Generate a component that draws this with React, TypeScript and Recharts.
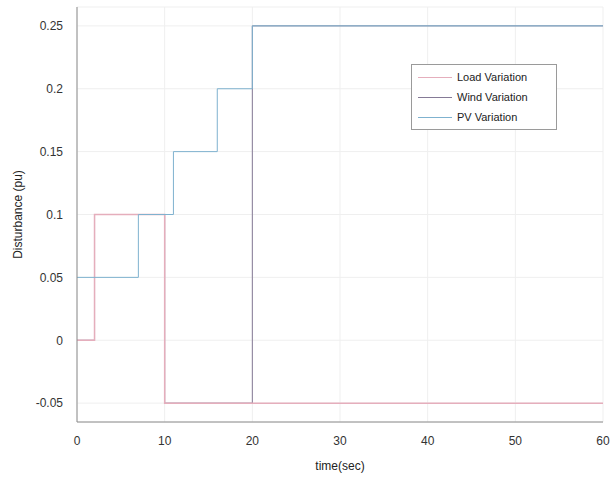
import React from 'react';
import { LineChart, Line, XAxis, YAxis, CartesianGrid } from 'recharts';

// step points (value holds until next time)
const loadVariation = [
  { t: 0, v: 0 },
  { t: 2, v: 0.1 },
  { t: 10, v: -0.05 },
  { t: 60, v: -0.05 },
];
const windVariation = [
  { t: 0, v: 0 },
  { t: 2, v: 0.1 },
  { t: 10, v: -0.05 },
  { t: 20, v: 0.25 },
  { t: 60, v: 0.25 },
];
const pvVariation = [
  { t: 0, v: 0.05 },
  { t: 7, v: 0.1 },
  { t: 11, v: 0.15 },
  { t: 16, v: 0.2 },
  { t: 20, v: 0.25 },
  { t: 60, v: 0.25 },
];
const xTicks = [0, 10, 20, 30, 40, 50, 60];
const yTicks = [-0.05, 0, 0.05, 0.1, 0.15, 0.2, 0.25];

const LOAD = '#e5aebc';
const WIND = '#857a96';
const PV = '#7fb2cf';
const FONT = '"Liberation Sans", Arial, sans-serif';

const legendItems = [
  { name: 'Load Variation', color: LOAD },
  { name: 'Wind Variation', color: WIND },
  { name: 'PV Variation', color: PV },
];

const LegendBox = () => (
  <div style={{ position: 'absolute', left: 411, top: 64, border: '1px solid #9a9a9a', background: '#fff', padding: '2px 10px 2px 6px', width: 128, fontFamily: FONT, fontSize: 11, color: '#222' }}>
    {legendItems.map(it => (
      <div key={it.name} style={{ display: 'flex', alignItems: 'center', height: 20 }}>
        <span style={{ display: 'inline-block', width: 34, borderTop: `1px solid ${it.color}`, marginRight: 5 }} />
        {it.name}
      </div>
    ))}
  </div>
);

export default function App() {
  return (
    <div style={{ position: 'absolute', left: 0, top: 0, width: 611, height: 480, background: '#fff' }}>
      <LineChart width={611} height={480} margin={{ top: 7, right: 8, bottom: 0, left: 0 }}>
        <CartesianGrid stroke="#efefef" />
        <XAxis
          type="number"
          dataKey="t"
          domain={[0, 60]}
          ticks={xTicks}
          tickLine={false}
          axisLine={{ stroke: '#8c8c8c' }}
          tick={{ fill: '#333', fontSize: 12, fontFamily: FONT }}
          tickMargin={8}
          height={58}
          label={{ value: 'time(sec)', position: 'insideBottom', offset: 10, fill: '#222', fontSize: 12, fontFamily: FONT }}
          allowDuplicatedCategory={false}
        />
        <XAxis xAxisId="top" orientation="top" type="number" domain={[0, 60]} tick={false} tickLine={false} height={0} axisLine={{ stroke: '#d6d6d6' }} />
        <YAxis
          type="number"
          domain={[-0.065, 0.265]}
          ticks={yTicks}
          tickLine={false}
          axisLine={{ stroke: '#8c8c8c' }}
          tick={{ fill: '#333', fontSize: 12, fontFamily: FONT }}
          tickMargin={8}
          width={77}
          label={{ value: 'Disturbance (pu)', angle: -90, position: 'insideLeft', offset: 18, style: { textAnchor: 'middle' }, fill: '#222', fontSize: 12, fontFamily: FONT }}
        />
        <YAxis yAxisId="right" orientation="right" domain={[-0.065, 0.265]} tick={false} tickLine={false} width={0} axisLine={{ stroke: '#d6d6d6' }} />
        <Line data={windVariation} dataKey="v" type="stepAfter" stroke={WIND} strokeWidth={1} dot={false} isAnimationActive={false} />
        <Line data={loadVariation} dataKey="v" type="stepAfter" stroke={LOAD} strokeWidth={1.5} dot={false} isAnimationActive={false} />
        <Line data={pvVariation} dataKey="v" type="stepAfter" stroke={PV} strokeWidth={1} dot={false} isAnimationActive={false} />
      </LineChart>
      <LegendBox />
    </div>
  );
}
